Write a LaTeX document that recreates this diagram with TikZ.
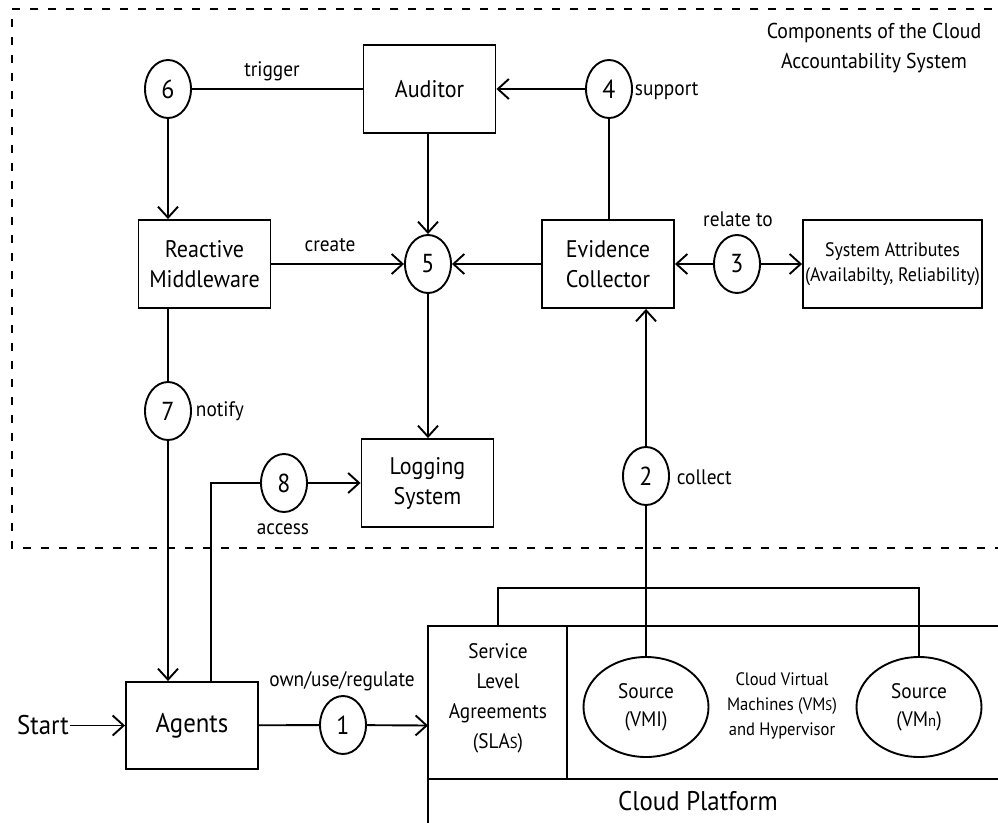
\documentclass[tikz,border=0pt]{standalone}
\usepackage{fontspec}
\setmainfont{PT Sans}[FakeStretch=0.92]
\usetikzlibrary{shapes.geometric,arrows.meta}

\begin{document}
\begin{tikzpicture}[x=1pt,y=-1pt,
  line width=1.9pt,
  every node/.style={inner sep=0pt},
  box/.style={draw,minimum width=132pt,minimum height=88pt,align=center,
    font=\fontsize{24}{30}\selectfont},
  num/.style={draw,ellipse,minimum width=46pt,minimum height=58pt,
    font=\fontsize{26}{28}\selectfont},
  lbl/.style={font=\fontsize{21}{24}\selectfont},
  small/.style={align=center,font=\fontsize{18}{25}\selectfont},
  arr/.style={-{Straight Barb[length=11pt,width=20pt,line width=1.9pt]}},
  frame/.style={dash pattern=on 8pt off 10pt,line width=1.9pt}
]
\clip (0,0) rectangle (998,822);

% boundary of the accountability system
\draw[frame] (1010,9) -- (12,9) -- (12,548) -- (1010,548);
\node[small,font=\fontsize{21.5}{30}\selectfont] (title) at (874,48)
  {Components of the Cloud\\Accountability System};

% component boxes
\node[box] (aud) at (429.5,89) {Auditor};
\node[box] (rm)  at (204.5,264) {Reactive\\Middleware};
\node[box] (ev)  at (608,264) {Evidence\\Collector};
\node[box] (log) at (427.5,483) {Logging\\System};
\node[box,minimum width=179pt,font=\fontsize{19.5}{25}\selectfont] (sa) at (892.5,264)
  {System Attributes\\(Availabilty, Reliability)};
\node[box,minimum height=87pt,font=\fontsize{27}{30}\selectfont] (ag) at (192,725.5) {Agents};

% numbered steps
\node[num] (n6) at (168,89) {6};
\node[num] (n4) at (609,89) {4};
\node[num] (n5) at (428,264) {5};
\node[num] (n3) at (737,264) {3};
\node[num] (n7) at (168,411) {7};
\node[num] (n8) at (284,483) {8};
\node[num] (n2) at (646,476) {2};
\node[num] (n1) at (343,725) {1};

% labels
\node[lbl] at (272,71) {trigger};
\node[lbl,anchor=west] at (634,91) {support};
\node[lbl] at (330,245) {create};
\node[lbl] at (738,219) {relate to};
\node[lbl,anchor=west] at (195,411) {notify};
\node[lbl] at (283,529) {access};
\node[lbl,anchor=west] at (676,477) {collect};
\node[lbl] at (342,681) {own/use/regulate};
\node[font=\fontsize{27}{30}\selectfont] (start) at (43,725.5) {Start};

% connectors inside the system
\draw (n6) -- (aud);
\draw[arr] (n6) -- (n6 |- rm.north);
\draw[arr] (n4) -- (aud);
\draw (n4) -- (n4 |- ev.north);
\draw[arr] (aud.south -| n5) -- (n5);
\draw[arr] (rm) -- (n5);
\draw[arr] (ev) -- (n5);
\draw[arr] (n3) -- (ev);
\draw[arr] (n3) -- (sa);
\draw[arr] (n5) -- (n5 |- log.north);
\draw (rm.south -| n7) -- (n7);
\draw[arr] (n7) -- (n7 |- ag.north);
\coordinate (c8) at (211,483);
\draw (ag.north -| c8) -- (c8) -- (n8);
\draw[arr] (n8) -- (log);
\draw[arr] (n2) -- (n2 |- ev.south);

% cloud platform
\coordinate (ptl) at (428,626);
\coordinate (pdiv) at (428,779);
\draw (1010,626) -- (ptl) -- (428,830);
\draw (pdiv) -- (1010,779);
\draw (567,626) -- (567,779);
\node[align=center,font=\fontsize{21}{30}\selectfont] (sla) at (498,698)
  {Service\\Level\\Agreements\\(SLA{\fontsize{16}{30}\selectfont S})};
\node[draw,ellipse,minimum width=125pt,minimum height=100pt,align=center,
  font=\fontsize{21}{28}\selectfont] (vmi) at (646,707) {Source\\(VMI)};
\node[draw,ellipse,minimum width=125pt,minimum height=100pt,align=center,
  font=\fontsize{21}{28}\selectfont] (vmn) at (919,707)
  {Source\\(VM{\fontsize{16}{28}\selectfont n})};
\node[small] (vms) at (782,706)
  {Cloud Virtual\\Machines (VM{\fontsize{14}{25}\selectfont S})\\and Hypervisor};
\node[font=\fontsize{27}{30}\selectfont] (cp) at (698,801) {Cloud Platform};

% collection bus
\coordinate (bl) at (498,588);
\coordinate (bm) at (646,588);
\coordinate (br) at (919,588);
\draw (bl |- ptl) -- (bl) -- (br) -- (vmn.north);
\draw (n2) -- (bm) -- (vmi.north);

% agents
\draw[arr] (start) -- (ag);
\draw (ag) -- (n1);
\coordinate (pin) at (428,725.5);
\draw[arr] (n1) -- (pin);
\end{tikzpicture}
\end{document}
